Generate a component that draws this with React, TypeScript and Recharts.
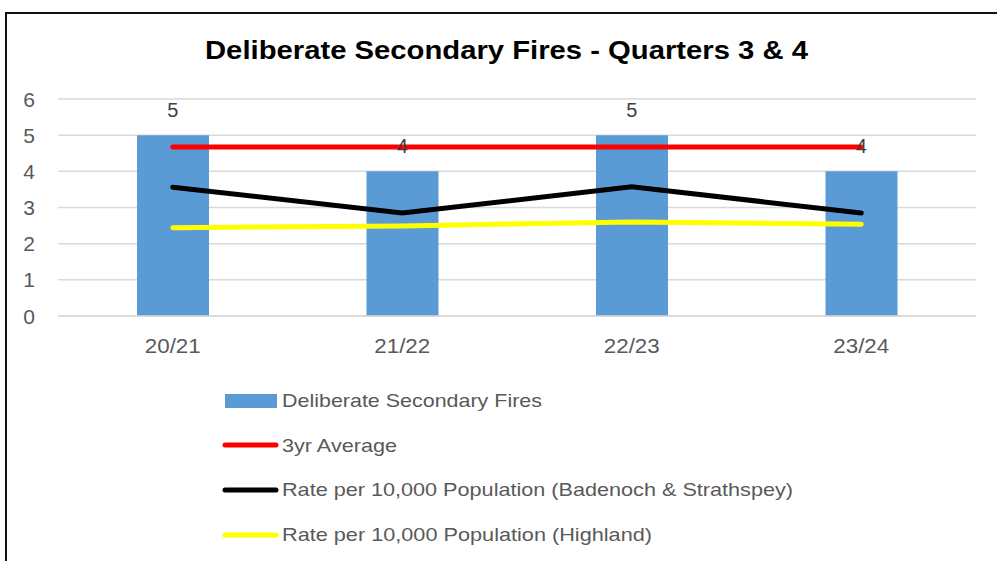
import React from 'react';
import { ComposedChart, Bar, Line, XAxis, YAxis, CartesianGrid, LabelList } from 'recharts';

const categories = ['20/21', '21/22', '22/23', '23/24'];
const fires = [5, 4, 5, 4];
const avg3yr = [4.67, 4.67, 4.67, 4.67];
const rateBS = [3.56, 2.85, 3.57, 2.85];
const rateHighland = [2.44, 2.49, 2.6, 2.54];
const yTicks = [0, 1, 2, 3, 4, 5, 6];

const seriesNames = [
  'Deliberate Secondary Fires',
  '3yr Average',
  'Rate per 10,000 Population (Badenoch & Strathspey)',
  'Rate per 10,000 Population (Highland)',
];

const data = categories.map((c, i) => ({
  cat: c,
  fires: fires[i],
  avg: avg3yr[i],
  bs: rateBS[i],
  hl: rateHighland[i],
}));

const FONT = '"Liberation Sans", Arial, sans-serif';

const XTick = (props: any) => {
  const { x, y, payload } = props;
  return (
    <text
      x={x}
      y={y}
      dy={37}
      textAnchor="middle"
      fill="#595959"
      fontSize={21}
      fontFamily={FONT}
      textLength={56}
      lengthAdjust="spacingAndGlyphs"
    >
      {payload.value}
    </text>
  );
};

const YTick = (props: any) => {
  const { x, y, payload } = props;
  return (
    <text x={x - 23} y={y} dy={7.5} textAnchor="end" fill="#595959" fontSize={21} fontFamily={FONT}>
      {payload.value}
    </text>
  );
};

const legendItems = [
  { name: seriesNames[0], kind: 'bar', color: '#5B9BD5', baseline: 407, len: 260, cy: 401 },
  { name: seriesNames[1], kind: 'line', color: '#FF0000', baseline: 451.5, len: 115, cy: 445 },
  { name: seriesNames[2], kind: 'line', color: '#000000', baseline: 496, len: 511, cy: 490 },
  { name: seriesNames[3], kind: 'line', color: '#FFFF00', baseline: 541, len: 370, cy: 535 },
];

export default function App() {
  return (
    <div
      style={{
        position: 'absolute',
        left: 0,
        top: 0,
        width: 997,
        height: 561,
        overflow: 'hidden',
        background: '#fff',
      }}
    >
      <div
        style={{
          position: 'absolute',
          left: 5,
          top: 12,
          width: 1100,
          height: 700,
          border: '2px solid #111',
          boxSizing: 'border-box',
        }}
      />
      <div style={{ position: 'absolute', left: 0, top: 0 }}>
        <ComposedChart
          width={997}
          height={561}
          data={data}
          margin={{ top: 99, right: 21, bottom: 215, left: 0 }}
          barCategoryGap={0}
        >
          <CartesianGrid vertical={false} stroke="#D9D9D9" strokeWidth={1.5} />
          <XAxis
            dataKey="cat"
            height={30}
            axisLine={{ stroke: '#D9D9D9', strokeWidth: 1.5 }}
            tickLine={false}
            tickSize={0}
            tickMargin={0}
            tick={<XTick />}
            interval={0}
          />
          <YAxis
            width={58}
            domain={[0, 6]}
            ticks={yTicks}
            axisLine={false}
            tickLine={false}
            tickSize={0}
            tickMargin={0}
            tick={<YTick />}
            interval={0}
          />
          <Bar dataKey="fires" fill="#5B9BD5" barSize={72} isAnimationActive={false} />
          <Line
            dataKey="avg"
            stroke="#FF0000"
            strokeWidth={5}
            strokeLinecap="round"
            dot={false}
            activeDot={false}
            isAnimationActive={false}
          />
          <Line
            dataKey="bs"
            stroke="#000000"
            strokeWidth={5}
            strokeLinecap="round"
            dot={false}
            activeDot={false}
            isAnimationActive={false}
          />
          <Line
            dataKey="hl"
            stroke="#FFFF00"
            strokeWidth={5}
            strokeLinecap="round"
            dot={false}
            activeDot={false}
            isAnimationActive={false}
          />
          <Line dataKey="fires" stroke="none" dot={false} activeDot={false} isAnimationActive={false}>
            <LabelList dataKey="fires" position="top" offset={18} fill="#404040" fontSize={20} fontFamily={FONT} />
          </Line>
        </ComposedChart>
      </div>
      <svg
        width={997}
        height={561}
        style={{ position: 'absolute', left: 0, top: 0, pointerEvents: 'none' }}
      >
        <text
          x={506.5}
          y={58.5}
          textAnchor="middle"
          fontSize={25.5}
          fontWeight="bold"
          fontFamily={FONT}
          fill="#000"
          textLength={603}
          lengthAdjust="spacingAndGlyphs"
        >
          Deliberate Secondary Fires - Quarters 3 &amp; 4
        </text>
        {legendItems.map((it) => (
          <g key={it.name}>
            {it.kind === 'bar' ? (
              <rect x={225} y={394} width={52} height={14} fill={it.color} />
            ) : (
              <line
                x1={225}
                x2={276}
                y1={it.cy}
                y2={it.cy}
                stroke={it.color}
                strokeWidth={5}
                strokeLinecap="round"
              />
            )}
            <text
              x={282}
              y={it.baseline}
              fontSize={19}
              fontFamily={FONT}
              fill="#595959"
              textLength={it.len}
              lengthAdjust="spacingAndGlyphs"
            >
              {it.name}
            </text>
          </g>
        ))}
      </svg>
    </div>
  );
}
